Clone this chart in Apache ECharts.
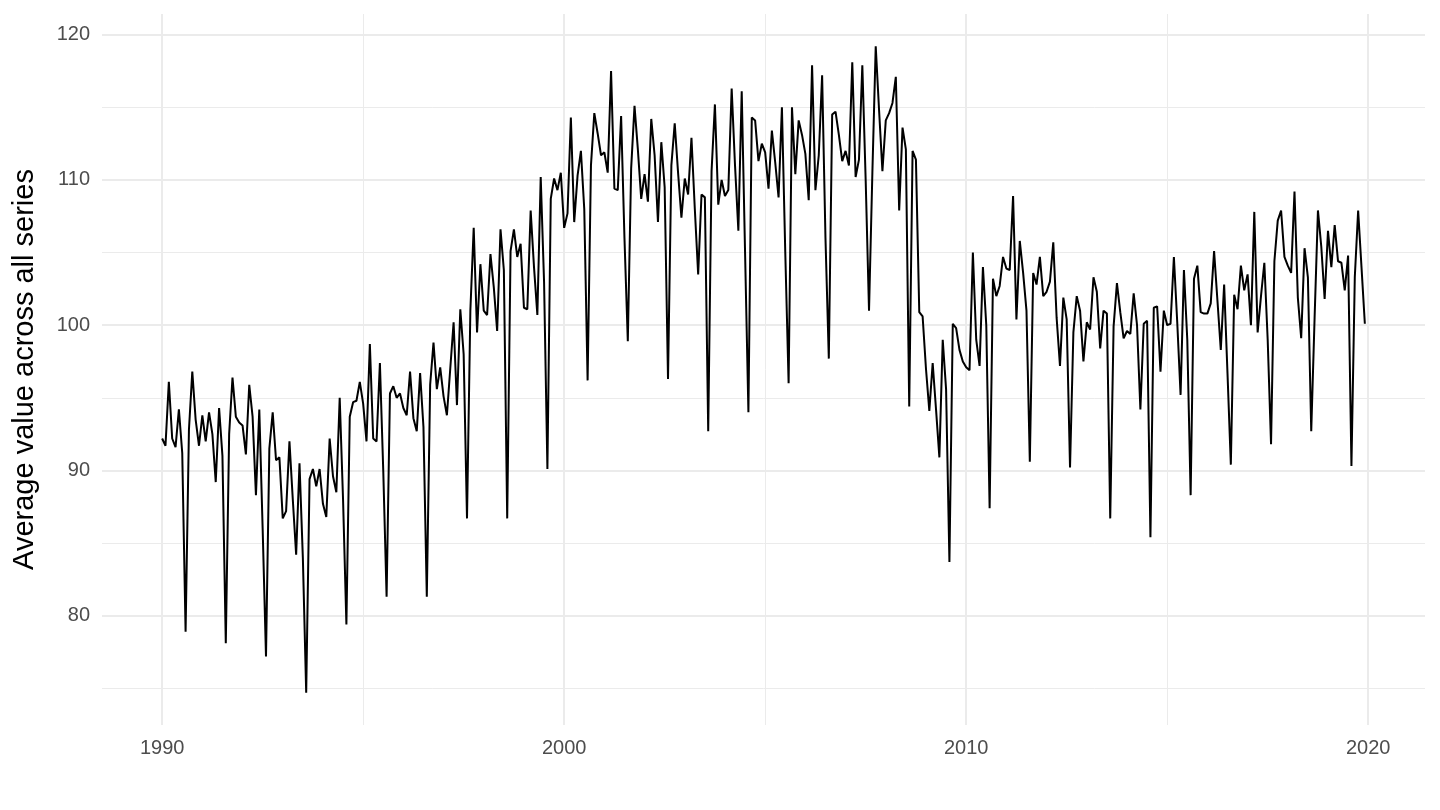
<!DOCTYPE html>
<html>
<head>
<meta charset="utf-8">
<script src="https://cdn.jsdelivr.net/npm/echarts@6/dist/echarts.min.js"></script>
<style>
html,body{margin:0;padding:0;background:#fff;}
#chart{width:1440px;height:810px;}
</style>
</head>
<body>
<div id="chart"></div>
<script>
// Monthly series, January 1990 to December 2019
const startYear = 1990;
const values = [
  92.2, 91.7, 96.1, 92.2, 91.6, 94.2, 91.2, 78.9, 92.8, 96.8, 93.5, 91.7,
  93.8, 92.0, 94.0, 92.5, 89.2, 94.3, 91.0, 78.1, 92.5, 96.4, 93.7, 93.3,
  93.1, 91.1, 95.9, 93.7, 88.3, 94.2, 86.0, 77.2, 91.5, 94.0, 90.7, 90.9,
  86.7, 87.2, 92.0, 88.0, 84.2, 90.5, 84.0, 74.7, 89.4, 90.1, 88.9, 90.1,
  87.7, 86.8, 92.2, 89.6, 88.5, 95.0, 88.0, 79.4, 93.7, 94.7, 94.8, 96.1,
  94.6, 92.0, 98.7, 92.2, 92.0, 97.4, 90.0, 81.3, 95.3, 95.8, 95.0, 95.3,
  94.3, 93.8, 96.8, 93.6, 92.7, 96.7, 93.0, 81.3, 95.9, 98.8, 95.6, 97.1,
  95.1, 93.8, 97.0, 100.2, 94.5, 101.1, 98.0, 86.7, 101.0, 106.7, 99.5, 104.2,
  101.0, 100.7, 104.9, 102.6, 99.6, 106.6, 103.8, 86.7, 105.1, 106.6, 104.7, 105.6,
  101.2, 101.1, 107.9, 104.0, 100.7, 110.2, 103.0, 90.1, 108.7, 110.1, 109.3, 110.5,
  106.7, 107.7, 114.3, 107.1, 110.3, 112.0, 108.0, 96.2, 111.0, 114.6, 113.2, 111.7,
  111.9, 110.5, 117.5, 109.4, 109.3, 114.4, 106.0, 98.9, 110.8, 115.1, 112.1, 108.7,
  110.4, 108.5, 114.2, 111.7, 107.1, 112.6, 109.5, 96.3, 111.0, 113.9, 110.5, 107.4,
  110.1, 109.0, 112.9, 108.0, 103.5, 109.0, 108.8, 92.7, 110.6, 115.2, 108.3, 110.0,
  108.9, 109.3, 116.3, 111.0, 106.5, 116.1, 105.0, 94.0, 114.3, 114.1, 111.3, 112.5,
  111.9, 109.4, 113.4, 111.2, 108.8, 115.0, 105.0, 96.0, 115.0, 110.4, 114.1, 113.1,
  111.8, 108.6, 117.9, 109.3, 111.7, 117.2, 106.0, 97.7, 114.5, 114.7, 113.1, 111.3,
  112.0, 111.0, 118.1, 110.2, 111.4, 117.9, 110.0, 101.0, 110.5, 119.2, 114.8, 110.6,
  114.1, 114.6, 115.3, 117.1, 107.9, 113.6, 112.1, 94.4, 112.0, 111.4, 100.9, 100.6,
  97.0, 94.1, 97.4, 94.2, 90.9, 99.0, 95.6, 83.7, 100.1, 99.8, 98.3, 97.5,
  97.1, 96.9, 105.0, 99.0, 97.2, 104.0, 100.0, 87.4, 103.2, 102.0, 102.7, 104.7,
  103.9, 103.8, 108.9, 100.4, 105.8, 103.6, 101.0, 90.6, 103.6, 102.8, 104.7, 102.0,
  102.3, 103.0, 105.7, 100.5, 97.2, 101.9, 100.4, 90.2, 99.5, 102.0, 101.0, 97.5,
  100.2, 99.7, 103.3, 102.3, 98.4, 101.0, 100.8, 86.7, 99.9, 102.9, 100.9, 99.1,
  99.6, 99.4, 102.2, 100.0, 94.2, 100.1, 100.3, 85.4, 101.2, 101.3, 96.8, 101.0,
  100.0, 100.1, 104.7, 100.2, 95.2, 103.8, 99.0, 88.3, 103.2, 104.1, 100.9, 100.8,
  100.8, 101.5, 105.1, 101.7, 98.3, 102.8, 96.7, 90.4, 102.1, 101.1, 104.1, 102.4,
  103.5, 100.0, 107.8, 99.5, 102.0, 104.3, 99.0, 91.8, 104.4, 107.2, 107.9, 104.7,
  104.1, 103.6, 109.2, 101.9, 99.1, 105.3, 103.3, 92.7, 100.5, 107.9, 105.4, 101.8,
  106.5, 104.0, 106.9, 104.4, 104.3, 102.4, 104.8, 90.3, 103.3, 107.9, 104.0, 100.1
];
const xMajorTicks = [1990, 2000, 2010, 2020];
const xMinorTicks = [1995, 2005, 2015];
const yMajorTicks = [80, 90, 100, 110, 120];
const yMinorTicks = [75, 85, 95, 105, 115];
const yTitle = 'Average value across all series';

const seriesData = values.map((v, i) => [startYear + i / 12, v]);

const xMin = 1988.504, xMax = 2021.413;
const yMin = 72.475, yMax = 121.425;
const FONT = "'Liberation Sans', Arial, Helvetica, sans-serif";
const GRID = '#EBEBEB';

const chart = echarts.init(document.getElementById('chart'), null, {renderer: 'canvas'});
chart.setOption({
  animation: false,
  backgroundColor: '#fff',
  textStyle: {fontFamily: FONT},
  grid: {left: 102, right: 15, top: 14, bottom: 85, containLabel: false},
  xAxis: [
    {
      type: 'value', min: xMin, max: xMax,
      axisLine: {show: false},
      axisTick: {show: false, customValues: xMajorTicks},
      axisLabel: {customValues: xMajorTicks, color: '#4D4D4D', fontSize: 20, margin: 13, fontFamily: FONT,
                  formatter: v => String(v)},
      splitLine: {show: true, lineStyle: {color: GRID, width: 2}}
    },
    {
      type: 'value', min: xMin, max: xMax, position: 'bottom',
      axisLine: {show: false},
      axisTick: {show: false, customValues: xMinorTicks},
      axisLabel: {show: false, customValues: xMinorTicks},
      splitLine: {show: true, lineStyle: {color: GRID, width: 1}}
    }
  ],
  yAxis: [
    {
      type: 'value', min: yMin, max: yMax,
      name: yTitle, nameLocation: 'middle', nameGap: 63,
      nameTextStyle: {color: '#000', fontSize: 29, fontFamily: FONT},
      axisLine: {show: false},
      axisTick: {show: false, customValues: yMajorTicks},
      axisLabel: {customValues: yMajorTicks, color: '#4D4D4D', fontSize: 20, margin: 12, fontFamily: FONT,
                  formatter: v => String(v)},
      splitLine: {show: true, lineStyle: {color: GRID, width: 2}}
    },
    {
      type: 'value', min: yMin, max: yMax, position: 'left',
      axisLine: {show: false},
      axisTick: {show: false, customValues: yMinorTicks},
      axisLabel: {show: false, customValues: yMinorTicks},
      splitLine: {show: true, lineStyle: {color: GRID, width: 1}}
    }
  ],
  series: [{
    type: 'line',
    data: seriesData,
    xAxisIndex: 0, yAxisIndex: 0,
    showSymbol: false,
    symbol: 'none',
    lineStyle: {color: '#000', width: 2},
    z: 10
  }]
});
</script>
</body>
</html>
